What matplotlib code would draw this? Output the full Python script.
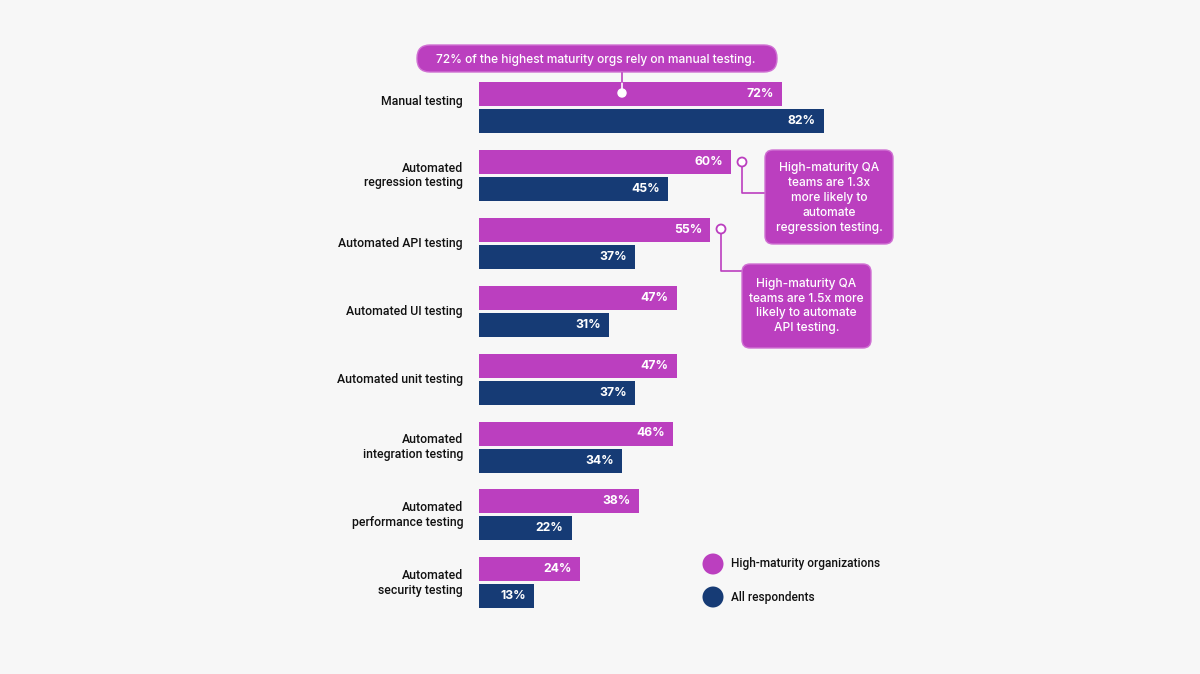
import matplotlib.pyplot as plt
from matplotlib.patches import FancyBboxPatch, Circle

plt.rcParams['font.family'] = ['Inter', 'DejaVu Sans']

# data
categories = ["Manual testing", "Automated\nregression testing", "Automated API testing",
              "Automated UI testing", "Automated unit testing", "Automated\nintegration testing",
              "Automated\nperformance testing", "Automated\nsecurity testing"]
high_maturity = [72, 60, 55, 47, 47, 46, 38, 24]
all_resp = [82, 45, 37, 31, 37, 34, 22, 13]

MAGENTA = "#bb3fbf"
NAVY = "#163b75"
BG = "#f7f7f7"
LABEL_FONT = ['Roboto', 'DejaVu Sans']

W, H = 1200, 674
fig = plt.figure(figsize=(W / 100, H / 100), dpi=100, facecolor=BG)

# main axes: x in percent, y in pixels (top = 0)
px_per_pct = 4.207
x0 = 479
ax = fig.add_axes([0, 0, 1, 1])
ax.set_xlim(-x0 / px_per_pct, (W - x0) / px_per_pct)
ax.set_ylim(H, 0)
ax.axis("off")
ax.set_facecolor(BG)

top = 107.5
step = 67.9
off = 13.5
bh = 24
for i, (cat, hm, ar) in enumerate(zip(categories, high_maturity, all_resp)):
    yc = top + step * i
    ax.barh(yc - off, hm, height=bh, color=MAGENTA, left=0)
    ax.barh(yc + off, ar, height=bh, color=NAVY, left=0)
    ax.text(hm - 1.9, yc - off, f"{hm}%", color="white", fontsize=8.8,
            fontweight="bold", ha="right", va="center")
    ax.text(ar - 1.9, yc + off, f"{ar}%", color="white", fontsize=8.8,
            fontweight="bold", ha="right", va="center")
    ly = yc - 6 if i == 0 else yc
    ax.text(-16 / px_per_pct, ly, cat, fontsize=8.8, ha="right", va="center",
            color="#111111", linespacing=1.15, family=LABEL_FONT, fontweight="medium")

# overlay axes in pixel coordinates for callouts and legend
ov = fig.add_axes([0, 0, 1, 1])
ov.set_xlim(0, W)
ov.set_ylim(H, 0)
ov.axis("off")
ov.patch.set_alpha(0)


def box(x1, y1, x2, y2, r):
    ov.add_patch(FancyBboxPatch((x1 + r, y1 + r), x2 - x1 - 2 * r, y2 - y1 - 2 * r,
                                boxstyle=f"round,pad={r}", fc=MAGENTA, ec="#d070d3",
                                lw=1, zorder=3))


# top pill callout
ov.plot([622, 622], [72, 93], color="white", lw=1.2, zorder=4)
ov.plot([622, 622], [72, 82], color=MAGENTA, lw=1.2, zorder=4)
ov.add_patch(Circle((622, 93), 4, fc="white", ec="white", zorder=5))
box(417, 45, 777, 72, 13)
ov.text(596, 59.5, "72% of the highest maturity orgs rely on manual testing.",
        color="white", fontsize=8.6, ha="center", va="center", zorder=5,
        fontweight="medium")

# callout 1
ov.plot([742, 742, 765], [166, 193, 193], color=MAGENTA, lw=1.2, zorder=2)
ov.add_patch(Circle((742, 162), 4.5, fc="white", ec=MAGENTA, lw=1.3, zorder=4))
box(765, 150, 893, 244, 8)
ov.text(829, 198, "High-maturity QA\nteams are 1.3x\nmore likely to\nautomate\nregression testing.",
        color="white", fontsize=8.6, ha="center", va="center", linespacing=1.33, zorder=5,
        fontweight="medium")

# callout 2
ov.plot([721, 721, 742], [233, 271, 271], color=MAGENTA, lw=1.2, zorder=2)
ov.add_patch(Circle((721, 229), 4.5, fc="white", ec=MAGENTA, lw=1.3, zorder=4))
box(742, 264, 871, 348, 8)
ov.text(806.5, 306, "High-maturity QA\nteams are 1.5x more\nlikely to automate\nAPI testing.",
        color="white", fontsize=8.6, ha="center", va="center", linespacing=1.33, zorder=5,
        fontweight="medium")

# legend
for yy, col, lab in [(564, MAGENTA, "High-maturity organizations"), (597, NAVY, "All respondents")]:
    ov.add_patch(Circle((713, yy), 10.5, fc=col, ec="none"))
    ov.text(731, yy, lab, fontsize=8.6, ha="left", va="center", color="#111111",
            family=LABEL_FONT, fontweight="medium")

fig.savefig("out.png", dpi=100, facecolor=BG)
